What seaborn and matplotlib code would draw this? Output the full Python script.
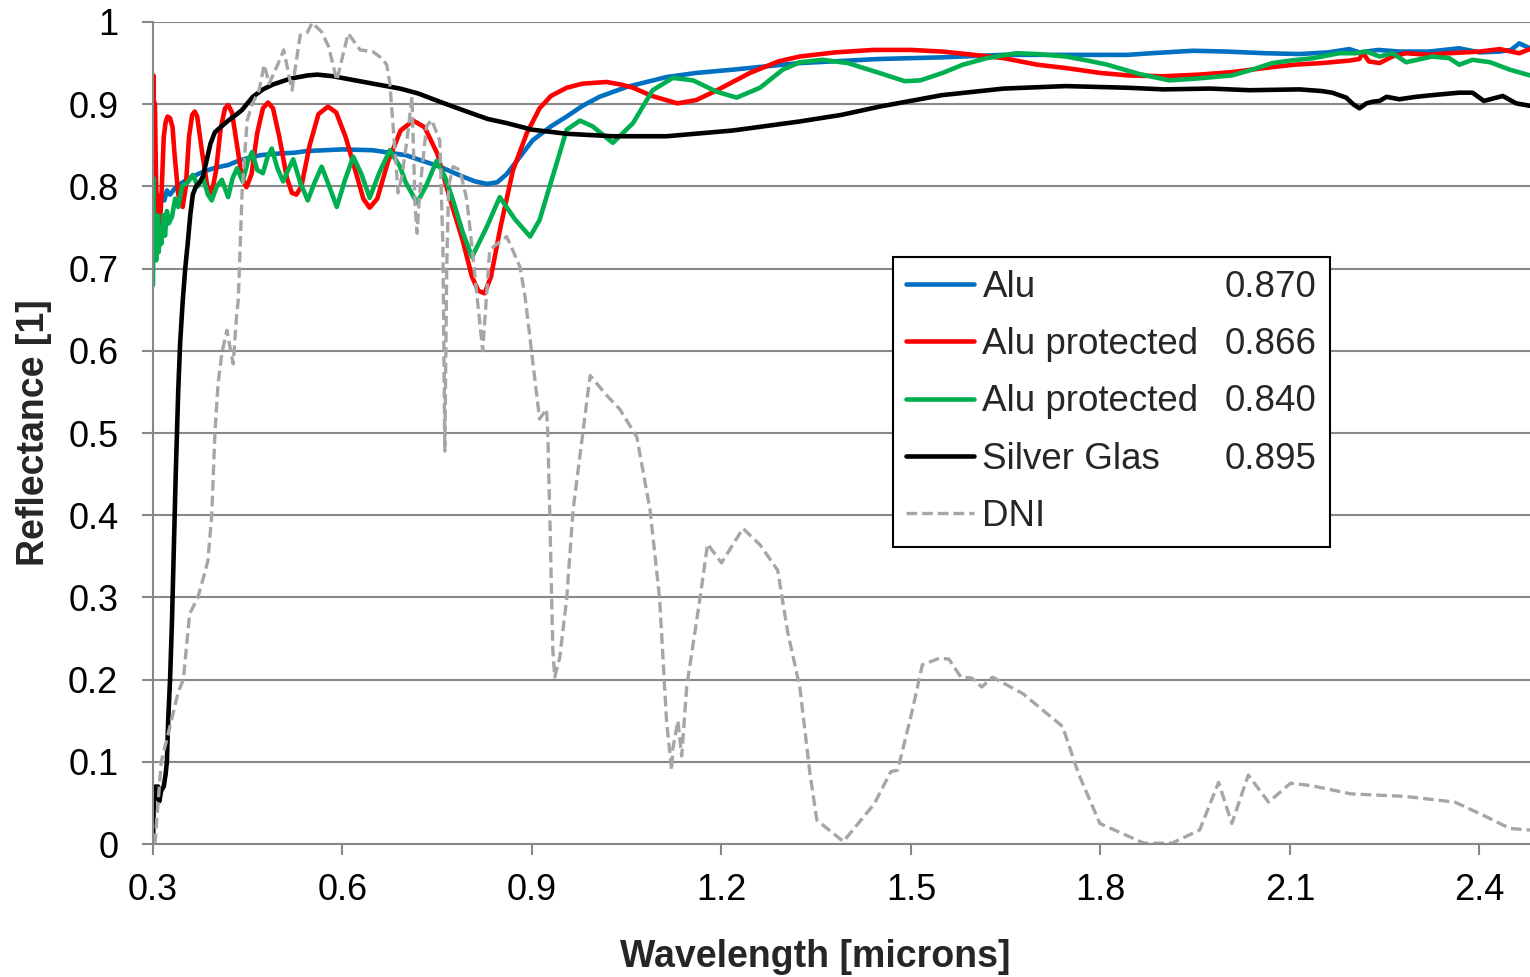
import matplotlib
matplotlib.use("Agg")
import matplotlib.pyplot as plt
import seaborn as sns

# Reflectance spectra (wavelength in microns)
alu_x = [0.300, 0.302, 0.304, 0.306, 0.308, 0.311, 0.314, 0.318, 0.322, 0.327, 0.335, 0.345,
         0.360, 0.380, 0.400, 0.419, 0.438, 0.470, 0.500, 0.525, 0.543, 0.600, 0.648, 0.700,
         0.754, 0.790, 0.810, 0.829, 0.845, 0.860, 0.880, 0.901, 0.930, 0.955, 0.980, 1.007,
         1.050, 1.113, 1.160, 1.218, 1.270, 1.324, 1.400, 1.450, 1.500, 1.550, 1.646, 1.750,
         1.843, 1.880, 1.947, 2.000, 2.060, 2.115, 2.160, 2.194, 2.210, 2.240, 2.273, 2.320,
         2.368, 2.400, 2.432, 2.450, 2.463, 2.480]
alu_y = [0.790, 0.775, 0.785, 0.772, 0.788, 0.778, 0.790, 0.783, 0.795, 0.790, 0.798, 0.804,
         0.811, 0.818, 0.823, 0.826, 0.832, 0.838, 0.840, 0.841, 0.843, 0.845, 0.844, 0.838,
         0.824, 0.812, 0.806, 0.803, 0.805, 0.815, 0.835, 0.856, 0.873, 0.885, 0.898, 0.909,
         0.921, 0.933, 0.938, 0.942, 0.946, 0.950, 0.953, 0.955, 0.956, 0.957, 0.960, 0.960,
         0.960, 0.962, 0.965, 0.964, 0.962, 0.961, 0.963, 0.967, 0.963, 0.966, 0.964, 0.964,
         0.968, 0.963, 0.964, 0.966, 0.974, 0.968]

prot1_x = [0.300, 0.3005, 0.301, 0.303, 0.305, 0.308, 0.311, 0.314, 0.317, 0.320, 0.323, 0.327,
           0.331, 0.334, 0.340, 0.347, 0.352, 0.357, 0.362, 0.366, 0.370, 0.378, 0.386, 0.393,
           0.400, 0.407, 0.414, 0.419, 0.425, 0.433, 0.441, 0.448, 0.456, 0.465, 0.474, 0.482,
           0.490, 0.500, 0.512, 0.520, 0.527, 0.535, 0.548, 0.562, 0.577, 0.590, 0.605, 0.620,
           0.633, 0.643, 0.655, 0.672, 0.692, 0.712, 0.730, 0.750, 0.770, 0.790, 0.805, 0.815,
           0.825, 0.835, 0.850, 0.870, 0.892, 0.912, 0.930, 0.955, 0.980, 1.018, 1.040, 1.060,
           1.090, 1.130, 1.160, 1.193, 1.245, 1.290, 1.324, 1.380, 1.440, 1.500, 1.550, 1.600,
           1.647, 1.700, 1.745, 1.800, 1.843, 1.900, 1.957, 2.008, 2.060, 2.106, 2.150, 2.194,
           2.210, 2.215, 2.225, 2.242, 2.262, 2.284, 2.320, 2.352, 2.400, 2.432, 2.463, 2.480]
prot1_y = [0.910, 0.935, 0.905, 0.900, 0.800, 0.760, 0.751, 0.800, 0.860, 0.878, 0.885, 0.883,
           0.872, 0.840, 0.790, 0.775, 0.800, 0.860, 0.887, 0.891, 0.885, 0.840, 0.800, 0.792,
           0.820, 0.870, 0.895, 0.899, 0.890, 0.850, 0.810, 0.799, 0.815, 0.865, 0.895, 0.902,
           0.895, 0.860, 0.810, 0.792, 0.790, 0.800, 0.850, 0.888, 0.897, 0.890, 0.860, 0.820,
           0.785, 0.774, 0.785, 0.830, 0.868, 0.880, 0.872, 0.840, 0.785, 0.735, 0.690, 0.673,
           0.670, 0.690, 0.750, 0.820, 0.865, 0.895, 0.910, 0.920, 0.925, 0.927, 0.924, 0.920,
           0.910, 0.901, 0.905, 0.917, 0.938, 0.952, 0.958, 0.963, 0.966, 0.966, 0.964, 0.960,
           0.956, 0.948, 0.944, 0.938, 0.935, 0.934, 0.936, 0.939, 0.944, 0.948, 0.950, 0.953,
           0.955, 0.963, 0.952, 0.950, 0.958, 0.962, 0.960, 0.962, 0.964, 0.967, 0.962, 0.967]

prot2_x = [0.300, 0.3005, 0.301, 0.303, 0.305, 0.307, 0.309, 0.311, 0.313, 0.316, 0.319, 0.322,
           0.325, 0.330, 0.335, 0.340, 0.346, 0.355, 0.363, 0.371, 0.379, 0.387, 0.393, 0.401,
           0.409, 0.419, 0.426, 0.433, 0.442, 0.450, 0.457, 0.465, 0.474, 0.481, 0.488, 0.497,
           0.506, 0.514, 0.522, 0.533, 0.545, 0.556, 0.567, 0.579, 0.591, 0.604, 0.617, 0.630,
           0.643, 0.659, 0.675, 0.691, 0.700, 0.718, 0.732, 0.749, 0.762, 0.775, 0.790, 0.805,
           0.828, 0.849, 0.873, 0.897, 0.912, 0.928, 0.955, 0.976, 0.996, 1.028, 1.060, 1.091,
           1.123, 1.155, 1.193, 1.224, 1.261, 1.297, 1.324, 1.360, 1.400, 1.450, 1.490, 1.515,
           1.550, 1.582, 1.620, 1.667, 1.700, 1.745, 1.780, 1.811, 1.860, 1.909, 1.950, 2.008,
           2.040, 2.072, 2.100, 2.137, 2.178, 2.204, 2.221, 2.242, 2.262, 2.284, 2.325, 2.352,
           2.368, 2.389, 2.417, 2.448, 2.480]
prot2_y = [0.680, 0.810, 0.720, 0.760, 0.710, 0.765, 0.720, 0.750, 0.730, 0.765, 0.740, 0.770,
           0.755, 0.763, 0.785, 0.775, 0.800, 0.805, 0.814, 0.800, 0.811, 0.790, 0.783, 0.800,
           0.808, 0.787, 0.810, 0.822, 0.806, 0.830, 0.842, 0.820, 0.816, 0.835, 0.846, 0.822,
           0.806, 0.820, 0.833, 0.805, 0.783, 0.805, 0.824, 0.800, 0.775, 0.808, 0.836, 0.815,
           0.786, 0.818, 0.844, 0.824, 0.805, 0.780, 0.800, 0.831, 0.812, 0.783, 0.745, 0.714,
           0.750, 0.787, 0.760, 0.739, 0.759, 0.800, 0.869, 0.880, 0.873, 0.853, 0.877, 0.917,
           0.932, 0.929, 0.915, 0.908, 0.920, 0.942, 0.951, 0.954, 0.950, 0.938, 0.928, 0.929,
           0.938, 0.948, 0.956, 0.962, 0.961, 0.958, 0.953, 0.948, 0.937, 0.929, 0.931, 0.935,
           0.942, 0.950, 0.953, 0.956, 0.962, 0.962, 0.964, 0.958, 0.962, 0.951, 0.958, 0.956,
           0.948, 0.954, 0.951, 0.942, 0.935]

silver_x = [0.300, 0.301, 0.302, 0.304, 0.306, 0.308, 0.310, 0.313, 0.317, 0.320, 0.322, 0.324,
            0.327, 0.330, 0.332, 0.336, 0.340, 0.343, 0.347, 0.351, 0.355, 0.359, 0.363, 0.368,
            0.374, 0.379, 0.385, 0.391, 0.398, 0.410, 0.419, 0.433, 0.441, 0.458, 0.474, 0.490,
            0.517, 0.545, 0.560, 0.585, 0.620, 0.648, 0.691, 0.720, 0.754, 0.797, 0.830, 0.860,
            0.900, 0.955, 1.028, 1.113, 1.218, 1.324, 1.390, 1.450, 1.549, 1.647, 1.745, 1.843,
            1.900, 1.974, 2.036, 2.115, 2.150, 2.167, 2.189, 2.200, 2.210, 2.221, 2.231, 2.242,
            2.253, 2.273, 2.300, 2.325, 2.368, 2.389, 2.407, 2.437, 2.458, 2.480]
silver_y = [0.000, 0.040, 0.065, 0.070, 0.055, 0.070, 0.052, 0.065, 0.070, 0.085, 0.100, 0.150,
            0.200, 0.270, 0.330, 0.450, 0.553, 0.610, 0.660, 0.700, 0.731, 0.765, 0.790, 0.800,
            0.805, 0.812, 0.832, 0.852, 0.866, 0.874, 0.880, 0.888, 0.893, 0.909, 0.918, 0.924,
            0.931, 0.935, 0.936, 0.934, 0.929, 0.925, 0.919, 0.913, 0.903, 0.891, 0.882, 0.877,
            0.869, 0.864, 0.861, 0.861, 0.868, 0.879, 0.887, 0.897, 0.911, 0.919, 0.922, 0.920,
            0.918, 0.919, 0.917, 0.918, 0.916, 0.914, 0.908, 0.900, 0.895, 0.901, 0.903, 0.904,
            0.909, 0.906, 0.909, 0.911, 0.914, 0.914, 0.904, 0.910, 0.901, 0.898]

dni_x = [0.303, 0.313, 0.325, 0.340, 0.348, 0.358, 0.371, 0.382, 0.387, 0.393, 0.398, 0.403,
         0.409, 0.417, 0.423, 0.427, 0.432, 0.435, 0.441, 0.449, 0.457, 0.468, 0.476, 0.484,
         0.499, 0.507, 0.520, 0.533, 0.544, 0.552, 0.567, 0.578, 0.591, 0.609, 0.628, 0.648,
         0.662, 0.670, 0.675, 0.683, 0.688, 0.694, 0.702, 0.710, 0.715, 0.718, 0.723, 0.733,
         0.741, 0.754, 0.759, 0.762, 0.765, 0.768, 0.775, 0.786, 0.797, 0.805, 0.813, 0.822,
         0.833, 0.860, 0.881, 0.889, 0.912, 0.923, 0.925, 0.928, 0.933, 0.936, 0.944, 0.955,
         0.965, 0.992, 1.018, 1.039, 1.066, 1.087, 1.102, 1.113, 1.121, 1.123, 1.131, 1.137,
         1.145, 1.166, 1.178, 1.200, 1.234, 1.261, 1.289, 1.305, 1.324, 1.340, 1.351, 1.393,
         1.442, 1.468, 1.479, 1.501, 1.518, 1.545, 1.560, 1.579, 1.596, 1.612, 1.629, 1.677,
         1.740, 1.765, 1.799, 1.869, 1.913, 1.957, 1.987, 2.008, 2.034, 2.066, 2.101, 2.134,
         2.197, 2.281, 2.361, 2.406, 2.448, 2.480]
dni_y = [0.000, 0.100, 0.137, 0.185, 0.200, 0.280, 0.300, 0.330, 0.345, 0.400, 0.500, 0.560,
         0.597, 0.625, 0.600, 0.584, 0.640, 0.662, 0.792, 0.880, 0.900, 0.917, 0.948, 0.925,
         0.951, 0.966, 0.917, 0.984, 0.987, 0.999, 0.988, 0.970, 0.929, 0.986, 0.966, 0.964,
         0.956, 0.948, 0.925, 0.844, 0.792, 0.812, 0.856, 0.909, 0.775, 0.743, 0.800, 0.873,
         0.881, 0.856, 0.726, 0.478, 0.700, 0.800, 0.824, 0.820, 0.783, 0.726, 0.666, 0.600,
         0.723, 0.739, 0.702, 0.666, 0.517, 0.529, 0.500, 0.406, 0.236, 0.203, 0.227, 0.299,
         0.406, 0.570, 0.546, 0.529, 0.495, 0.406, 0.299, 0.150, 0.090, 0.116, 0.150, 0.107,
         0.192, 0.299, 0.365, 0.342, 0.384, 0.364, 0.333, 0.257, 0.191, 0.086, 0.029, 0.003,
         0.049, 0.088, 0.090, 0.159, 0.218, 0.226, 0.225, 0.203, 0.202, 0.191, 0.203, 0.183,
         0.143, 0.086, 0.025, 0.001, 0.001, 0.017, 0.075, 0.025, 0.084, 0.051, 0.074, 0.071,
         0.061, 0.058, 0.051, 0.035, 0.019, 0.017]

legend_names = ["Alu", "Alu protected", "Alu protected", "Silver Glas", "DNI"]
legend_values = ["0.870", "0.866", "0.840", "0.895", ""]
colors = ["#0070C0", "#FF0000", "#00B050", "#000000", "#A6A6A6"]

xticks = [0.3, 0.6, 0.9, 1.2, 1.5, 1.8, 2.1, 2.4]
xtick_labels = ["0.3", "0.6", "0.9", "1.2", "1.5", "1.8", "2.1", "2.4"]
yticks = [0, 0.1, 0.2, 0.3, 0.4, 0.5, 0.6, 0.7, 0.8, 0.9, 1.0]
ytick_labels = ["0", "0.1", "0.2", "0.3", "0.4", "0.5", "0.6", "0.7", "0.8", "0.9", "1"]

sns.set_style("white")
plt.rcParams["font.family"] = ["Liberation Sans", "DejaVu Sans"]

grey = "#888888"
fig = plt.figure(figsize=(15.3, 9.77), dpi=100)
ax = fig.add_axes([0.1, 0.1361, 0.9, 0.8414])

series = [(alu_x, alu_y), (prot1_x, prot1_y), (prot2_x, prot2_y),
          (silver_x, silver_y), (dni_x, dni_y)]
for (xs, ys), name, col in zip(series, legend_names, colors):
    if name == "DNI":
        sns.lineplot(x=xs, y=ys, ax=ax, color=col, linewidth=2.4, label=name,
                     estimator=None, sort=False, linestyle=(0, (3.2, 1.5)))
    else:
        sns.lineplot(x=xs, y=ys, ax=ax, color=col, linewidth=3.3, label=name,
                     estimator=None, sort=False)

ax.set_xlim(0.3, 2.48)
ax.set_ylim(0, 1)
ax.set_xticks(xticks, labels=xtick_labels)
ax.set_yticks(yticks, labels=ytick_labels)
ax.yaxis.grid(True, color=grey, linewidth=1.5)
ax.xaxis.grid(False)
ax.set_axisbelow(True)

for side in ["top", "right"]:
    ax.spines[side].set_visible(False)
for side in ["left", "bottom"]:
    ax.spines[side].set_color(grey)
    ax.spines[side].set_linewidth(1.5)

ax.tick_params(axis="both", which="major", direction="out", length=8, width=1.5,
               color=grey, labelsize=26, labelcolor="black", bottom=True, left=True)
ax.tick_params(axis="y", pad=17)
ax.tick_params(axis="x", pad=13)

ax.set_xlabel("Wavelength [microns]", fontsize=27, fontweight="bold")
ax.set_ylabel("Reflectance [1]", fontsize=27, fontweight="bold")
ax.xaxis.set_label_coords(0.481, -0.115)
ax.yaxis.set_label_coords(-0.073, 0.5)

handles, labels = ax.get_legend_handles_labels()
leg = ax.legend(handles, labels, loc="upper left",
                bbox_to_anchor=(0.5374, 0.0, 0.3174, 0.7141), mode="expand",
                borderaxespad=0, prop={"size": 26.5}, handlelength=1.85,
                handletextpad=0.22, labelspacing=0.6, borderpad=0.36,
                frameon=True, fancybox=False, framealpha=1, edgecolor="black")
leg.get_frame().set_linewidth(1.5)

# weighted reflectance values, right-aligned inside the legend box
for txt, val in zip(leg.get_texts(), legend_values):
    if val:
        ax.annotate(val, xy=(1, 0.5), xycoords=(leg, txt), xytext=(-10, 0),
                    textcoords="offset points", ha="right", va="center",
                    fontsize=26.5, zorder=10, annotation_clip=False)

fig.savefig("out.png", dpi=100)
